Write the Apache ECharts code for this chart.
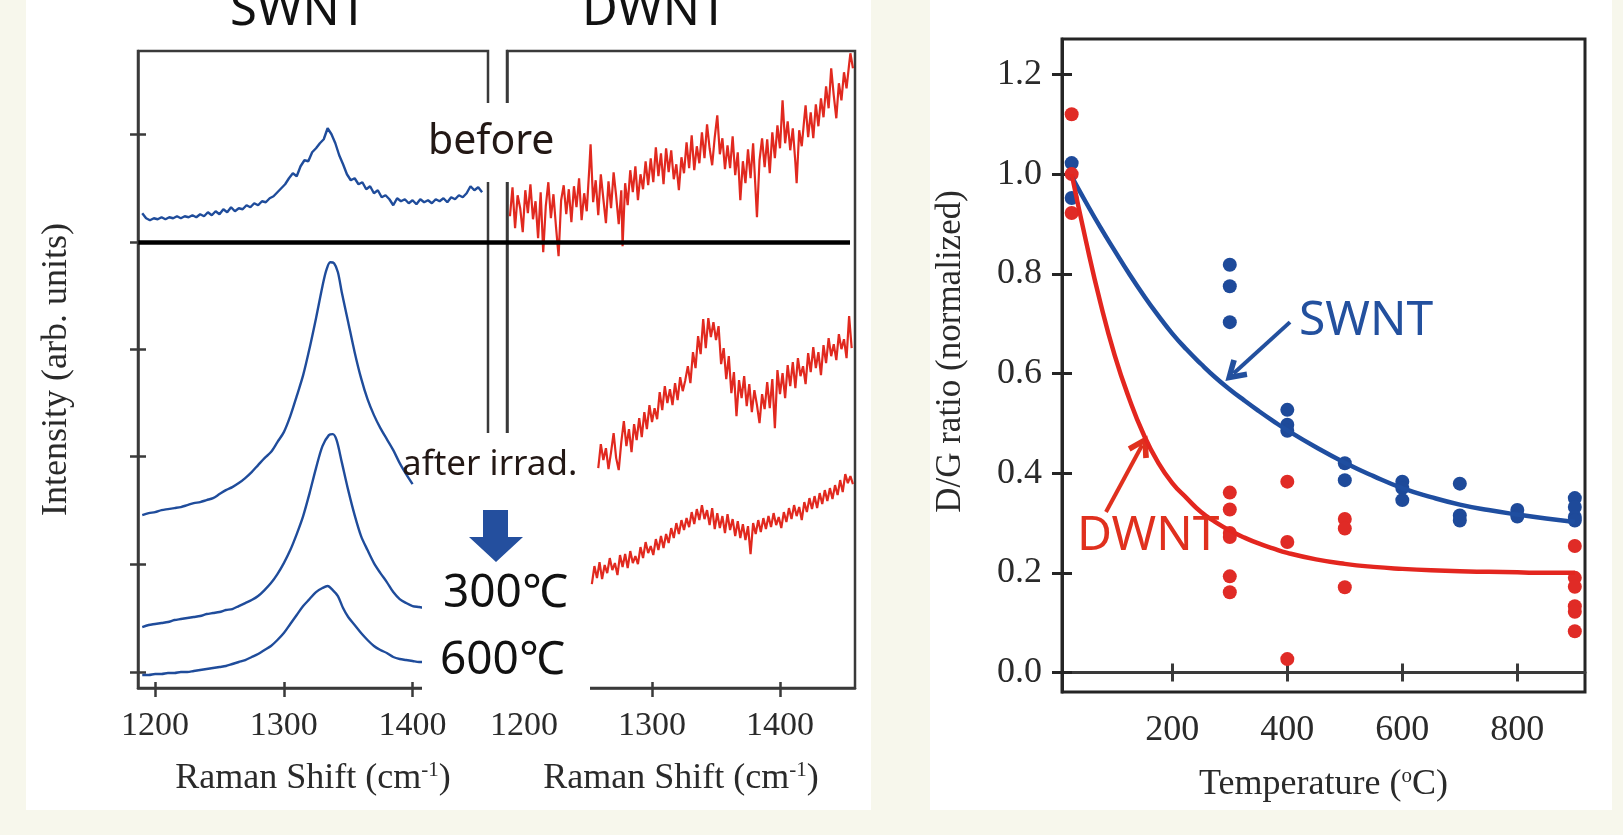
<!DOCTYPE html>
<html><head><meta charset="utf-8">
<script src="https://cdn.jsdelivr.net/npm/echarts@6/dist/echarts.min.js"></script>
<style>html,body{margin:0;padding:0;background:#f7f7ec;overflow:hidden}#c{width:1623px;height:835px}</style>
</head><body><div id="c"></div>
<script>
// ---------- tick values / labels ----------
const ramanTicks = [1200, 1300, 1400];
const intensityTicks = [1.55, 12.36, 23.17, 33.87, 44.57, 55.38];
const tempTicks = [200, 400, 600, 800];
const ratioTicks = [0, 0.2, 0.4, 0.6, 0.8, 1.0, 1.2];
const separatorLevel = 44.57;

// ---------- Raman spectra [shift cm-1, intensity arb.] ----------
const swntBefore = [[1190,47.5],[1193,47.0],[1196,46.8],[1199,47.0],[1202,46.9],[1205,47.1],[1208,46.9],[1211,47.1],[1214,47.0],[1217,47.2],[1220,47.0],[1223,47.2],[1226,47.1],[1229,47.3],[1232,47.1],[1235,47.4],[1238,47.2],[1241,47.6],[1244,47.3],[1247,47.7],[1250,47.4],[1253,47.9],[1256,47.6],[1259,48.1],[1262,47.7],[1265,48.0],[1268,47.9],[1271,48.3],[1274,48.1],[1277,48.5],[1280,48.3],[1283,48.7],[1286,48.6],[1289,49.0],[1292,49.2],[1295,49.6],[1298,50.0],[1301,50.4],[1304,51.0],[1307,51.5],[1310,51.2],[1313,52.2],[1316,52.8],[1319,52.7],[1322,53.6],[1325,54.0],[1328,54.5],[1331,54.9],[1334,56.0],[1337,55.4],[1340,54.5],[1343,53.3],[1346,52.4],[1349,51.4],[1352,50.8],[1355,51.0],[1358,50.4],[1361,50.6],[1364,49.9],[1367,50.2],[1370,49.5],[1373,49.8],[1376,49.1],[1379,49.3],[1382,48.9],[1385,48.3],[1388,49.0],[1391,48.7],[1394,48.9],[1397,48.5],[1400,48.8],[1403,48.4],[1406,48.9],[1409,48.6],[1412,48.8],[1415,48.5],[1418,48.9],[1421,48.7],[1424,49.0],[1427,48.6],[1430,49.1],[1433,48.9],[1436,49.3],[1439,49.1],[1442,49.5],[1445,50.2],[1448,49.8],[1451,50.1],[1454,49.6]];

const swntIrrad = [[1190,17.3],[1195,17.5],[1200,17.6],[1205,17.8],[1210,17.9],[1215,18.0],[1220,18.1],[1225,18.3],[1230,18.5],[1235,18.6],[1240,18.8],[1245,19.0],[1250,19.4],[1255,19.8],[1260,20.1],[1265,20.5],[1270,21.0],[1275,21.6],[1280,22.3],[1285,23.0],[1290,23.6],[1295,24.6],[1300,25.6],[1305,27.2],[1310,29.2],[1315,31.3],[1320,34.0],[1325,37.0],[1330,40.2],[1333,41.8],[1336,42.6],[1339,42.5],[1342,41.6],[1345,39.6],[1350,36.6],[1355,33.6],[1360,31.0],[1365,28.9],[1370,27.3],[1375,26.0],[1380,24.9],[1385,23.8],[1390,22.5],[1395,21.4],[1400,20.4]];

const swnt300 = [[1190,6.1],[1195,6.3],[1200,6.4],[1205,6.5],[1210,6.6],[1215,6.8],[1220,6.9],[1225,7.0],[1230,7.1],[1235,7.2],[1240,7.4],[1245,7.5],[1250,7.6],[1255,7.8],[1260,7.9],[1265,8.2],[1270,8.5],[1275,8.8],[1280,9.2],[1285,9.8],[1290,10.5],[1295,11.4],[1300,12.5],[1305,13.8],[1310,15.4],[1315,17.2],[1320,19.5],[1325,22.0],[1330,24.2],[1335,25.3],[1338,25.4],[1341,24.8],[1345,22.6],[1350,19.8],[1355,17.3],[1360,15.2],[1365,13.8],[1370,12.5],[1375,11.5],[1380,10.6],[1385,9.6],[1390,8.9],[1395,8.5],[1400,8.2],[1405,8.1],[1410,8.0]];

const swnt600 = [[1190,1.3],[1195,1.3],[1200,1.4],[1205,1.4],[1210,1.5],[1215,1.5],[1220,1.6],[1225,1.6],[1230,1.7],[1235,1.8],[1240,1.9],[1245,2.0],[1250,2.1],[1255,2.2],[1260,2.4],[1265,2.6],[1270,2.8],[1275,3.1],[1280,3.4],[1285,3.8],[1290,4.2],[1295,4.8],[1300,5.5],[1305,6.4],[1310,7.3],[1315,8.2],[1320,8.9],[1325,9.6],[1330,10.0],[1334,10.2],[1338,9.8],[1342,9.2],[1346,8.0],[1350,7.1],[1355,6.3],[1360,5.5],[1365,4.8],[1370,4.2],[1375,3.8],[1380,3.5],[1385,3.1],[1390,2.9],[1395,2.8],[1400,2.7],[1405,2.6],[1410,2.6]];

const dwntBefore = [[1189,47.2],[1191,50.1],[1193,46.0],[1195,49.3],[1197,48.0],[1199,45.6],[1201,49.8],[1203,47.5],[1205,50.4],[1207,46.9],[1209,48.7],[1211,45.0],[1213,49.6],[1215,43.6],[1217,48.2],[1219,50.6],[1221,47.0],[1223,49.4],[1225,46.1],[1227,43.2],[1229,48.8],[1231,50.3],[1233,47.4],[1235,49.9],[1237,46.6],[1239,50.2],[1241,48.1],[1243,51.0],[1245,46.8],[1247,49.5],[1249,47.7],[1251,52.0],[1252,54.4],[1254,48.6],[1256,50.8],[1258,47.3],[1260,51.4],[1262,48.9],[1264,46.5],[1266,50.7],[1268,48.0],[1270,51.6],[1272,49.2],[1274,46.4],[1276,49.8],[1277,44.2],[1279,50.5],[1281,48.3],[1283,51.8],[1285,49.6],[1287,52.2],[1289,48.8],[1291,51.4],[1293,49.9],[1295,52.7],[1297,50.3],[1299,53.0],[1301,50.6],[1303,54.1],[1305,51.2],[1307,53.5],[1309,50.4],[1311,54.0],[1313,51.6],[1315,53.8],[1317,50.9],[1319,52.4],[1321,49.8],[1323,53.1],[1325,51.5],[1327,54.6],[1329,52.0],[1331,55.3],[1333,51.8],[1335,54.2],[1337,52.5],[1339,55.6],[1341,53.0],[1343,56.4],[1345,54.0],[1347,52.3],[1349,55.1],[1351,57.3],[1353,53.4],[1355,55.0],[1357,51.9],[1359,54.3],[1361,52.0],[1363,55.2],[1365,51.3],[1367,53.6],[1369,48.8],[1371,52.7],[1373,50.5],[1375,53.9],[1377,51.0],[1379,54.5],[1381,49.6],[1382,47.1],[1384,52.8],[1386,55.0],[1388,52.1],[1390,54.9],[1392,51.5],[1394,55.6],[1396,53.0],[1398,56.3],[1400,54.0],[1402,58.8],[1404,54.5],[1406,56.7],[1408,53.8],[1410,56.0],[1412,52.6],[1413,50.5],[1415,55.8],[1417,54.2],[1419,57.0],[1420,58.3],[1422,55.1],[1424,57.6],[1426,55.0],[1428,58.4],[1430,56.2],[1432,59.0],[1434,57.1],[1436,60.2],[1438,58.0],[1440,62.0],[1442,59.3],[1444,57.0],[1446,60.5],[1448,58.8],[1450,61.6],[1452,60.0],[1454,62.4],[1455,63.5],[1457,62.0]];

const dwntIrrad = [[1258,22.0],[1260,24.4],[1262,22.8],[1264,24.0],[1266,21.9],[1268,23.6],[1270,25.5],[1272,23.0],[1274,21.8],[1276,24.6],[1278,26.7],[1280,24.2],[1282,25.9],[1284,23.6],[1286,26.4],[1288,24.8],[1290,27.0],[1292,25.1],[1294,27.6],[1296,25.9],[1298,28.3],[1300,26.6],[1302,28.0],[1304,26.9],[1306,29.6],[1308,27.8],[1310,30.2],[1312,28.5],[1314,29.9],[1316,28.3],[1318,30.5],[1320,28.8],[1322,31.1],[1324,29.7],[1326,30.8],[1328,32.2],[1330,30.5],[1332,33.6],[1334,32.0],[1336,35.2],[1338,33.4],[1340,36.9],[1342,34.0],[1344,37.0],[1346,35.1],[1348,36.6],[1350,34.8],[1352,36.2],[1354,32.4],[1356,34.0],[1358,30.9],[1360,33.2],[1362,29.5],[1364,31.6],[1366,27.2],[1368,30.8],[1370,29.0],[1372,31.2],[1374,28.2],[1376,30.4],[1378,27.6],[1380,29.8],[1382,28.3],[1384,26.5],[1386,29.4],[1388,27.9],[1390,30.6],[1392,28.0],[1394,30.9],[1396,26.0],[1398,31.8],[1400,29.4],[1402,31.5],[1404,29.0],[1406,32.3],[1408,30.2],[1410,32.6],[1412,30.0],[1414,33.0],[1416,31.2],[1418,32.2],[1420,30.4],[1422,33.5],[1424,31.6],[1426,34.1],[1428,32.0],[1430,33.6],[1432,31.3],[1434,34.3],[1436,32.5],[1438,35.0],[1440,33.2],[1442,34.4],[1444,32.8],[1446,35.4],[1448,33.9],[1450,34.9],[1452,33.0],[1454,37.2],[1456,34.0]];

const dwntAnneal = [[1253,10.4],[1255,12.2],[1257,11.0],[1259,12.6],[1261,10.9],[1263,12.3],[1265,11.5],[1267,13.0],[1269,11.8],[1271,12.5],[1273,11.3],[1275,13.3],[1277,12.1],[1279,13.4],[1281,12.0],[1283,13.7],[1285,12.5],[1287,13.2],[1289,12.4],[1291,14.1],[1293,13.0],[1295,14.6],[1297,13.5],[1299,14.2],[1301,13.3],[1303,14.9],[1305,13.8],[1307,15.2],[1309,14.0],[1311,15.4],[1313,14.5],[1315,16.0],[1317,15.0],[1319,16.5],[1321,15.4],[1323,16.8],[1325,15.8],[1327,17.0],[1329,16.1],[1331,17.6],[1333,16.4],[1335,17.9],[1337,16.8],[1339,18.3],[1341,16.9],[1343,17.8],[1345,16.3],[1347,18.0],[1349,15.9],[1351,17.5],[1353,16.0],[1355,17.2],[1357,15.5],[1359,17.4],[1361,15.8],[1363,16.9],[1365,15.2],[1367,16.7],[1369,15.0],[1371,16.4],[1373,14.8],[1375,16.2],[1377,13.4],[1379,16.5],[1381,15.4],[1383,16.8],[1385,15.6],[1387,17.0],[1389,15.9],[1391,17.2],[1393,16.1],[1395,17.5],[1397,16.3],[1399,17.1],[1401,16.0],[1403,17.6],[1405,16.6],[1407,18.0],[1409,16.9],[1411,18.3],[1413,17.2],[1415,18.1],[1417,16.8],[1419,18.6],[1421,17.6],[1423,19.0],[1425,17.9],[1427,19.2],[1429,18.0],[1431,19.5],[1433,18.4],[1435,19.8],[1437,18.7],[1439,20.0],[1441,18.9],[1443,20.3],[1445,19.3],[1447,20.8],[1449,19.6],[1451,21.4],[1453,20.5],[1455,21.2],[1457,20.4]];

// ---------- D/G ratio vs temperature ----------
const swntPoints = [[25,1.022],[25,0.952],[300,0.818],[300,0.775],[300,0.703],[400,0.527],[400,0.497],[400,0.485],[500,0.42],[500,0.386],[600,0.383],[600,0.37],[600,0.346],[700,0.379],[700,0.315],[700,0.305],[800,0.326],[800,0.313],[900,0.35],[900,0.332],[900,0.312],[900,0.305]];
const dwntPoints = [[25,1.12],[25,1.0],[25,0.922],[300,0.361],[300,0.327],[300,0.28],[300,0.272],[300,0.193],[300,0.161],[400,0.383],[400,0.262],[400,0.027],[500,0.308],[500,0.289],[500,0.171],[900,0.254],[900,0.19],[900,0.172],[900,0.133],[900,0.122],[900,0.083]];
const swntFit = [[25,0.995],[50,0.943],[75,0.893],[100,0.846],[125,0.800],[150,0.757],[175,0.717],[200,0.680],[225,0.648],[250,0.619],[275,0.592],[300,0.568],[325,0.546],[350,0.525],[375,0.505],[400,0.486],[450,0.452],[500,0.421],[550,0.394],[600,0.370],[650,0.352],[700,0.337],[750,0.326],[800,0.317],[850,0.309],[900,0.302]];
const dwntFit = [[25,1.0],[50,0.865],[75,0.742],[100,0.636],[125,0.55],[150,0.478],[175,0.422],[200,0.38],[225,0.35],[250,0.322],[275,0.302],[300,0.285],[325,0.271],[350,0.259],[375,0.249],[400,0.24],[450,0.227],[500,0.218],[550,0.212],[600,0.208],[650,0.205],[700,0.203],[750,0.202],[800,0.201],[850,0.2],[900,0.2]];
const swntArrow = [[404.7,0.703],[306.5,0.600]];
const dwntArrow = [[84.7,0.322],[147.5,0.456]];

// ---------- styles ----------
const SERIF = '"Liberation Serif","Times New Roman",serif';
const SANS = '"Noto Sans","Noto Sans CJK JP",sans-serif';
const BLUE = '#1f4c9b', RED = '#e1291f', AX = '#3a3a3a', LBL = '#2a2a2a';
const chevron = 'path://M10,0 L20,15 L16,17.5 L10,8 L4,17.5 L0,15 Z';

const chart = echarts.init(document.getElementById('c'), null, {renderer:'canvas'});

function xMain(grid, min, max, ticks, name, gap, lw, labelSize) {
  return {type:'value', gridIndex:grid, min:min, max:max, position:'bottom',
    axisLine:{show:true, lineStyle:{color:AX, width:lw}},
    axisTick:{show:true, inside:false, length:9, customValues:ticks, lineStyle:{color:AX, width:lw}},
    axisLabel:{show:true, customValues:ticks, margin:21, fontFamily:SERIF, fontSize:labelSize, color:LBL, formatter:v=>String(v)},
    splitLine:{show:false}, name:name, nameLocation:'middle', nameGap:gap,
    nameTextStyle:{fontFamily:SERIF, fontSize:36, color:LBL, rich:{sup:{fontFamily:SERIF, fontSize:21, color:LBL, verticalAlign:'top', padding:[0,0,16,0]}}}};
}
function xInner(grid, min, max, ticks, len, lw) {
  return {type:'value', gridIndex:grid, min:min, max:max, position:'bottom',
    axisLine:{show:false}, axisTick:{show:true, inside:true, length:len, customValues:ticks, lineStyle:{color:AX, width:lw}},
    axisLabel:{show:false}, splitLine:{show:false}};
}

const option = {
  animation:false,
  backgroundColor:'transparent',
  grid:[
    {left:138, top:51, width:350, height:637, show:true, borderColor:AX, borderWidth:2.5, backgroundColor:'transparent'},
    {left:507, top:51, width:348, height:637, show:true, borderColor:AX, borderWidth:2.5, backgroundColor:'transparent'},
    {left:1062, top:39, width:523, height:653, show:true, borderColor:'#252525', borderWidth:3, backgroundColor:'transparent'}
  ],
  xAxis:[
    xMain(0, 1186.7, 1458.6, ramanTicks, 'Raman Shift (cm{sup|-1})', 72, 2.5, 34),
    xInner(0, 1186.7, 1458.6, ramanTicks, 6, 2.5),
    xMain(1, 1186.7, 1458.6, ramanTicks, 'Raman Shift (cm{sup|-1})', 72, 2.5, 34),
    xInner(1, 1186.7, 1458.6, ramanTicks, 6, 2.5),
    xMain(2, 8.2, 917.7, tempTicks, 'Temperature ({sup|o}C)', 74, 3, 36),
    xInner(2, 8.2, 917.7, tempTicks, 9, 3)
  ],
  yAxis:[
    {type:'value', gridIndex:0, min:0, max:63.73, position:'left',
      axisLine:{show:true, lineStyle:{color:AX, width:2.5}},
      axisTick:{show:true, inside:false, length:8, customValues:intensityTicks, lineStyle:{color:AX, width:2.5}},
      axisLabel:{show:false}, splitLine:{show:false},
      name:'Intensity (arb. units)', nameLocation:'middle', nameGap:63,
      nameTextStyle:{fontFamily:SERIF, fontSize:36, color:LBL}},
    {type:'value', gridIndex:0, min:0, max:63.73, position:'left',
      axisLine:{show:false}, axisTick:{show:true, inside:true, length:8, customValues:intensityTicks, lineStyle:{color:AX, width:2.5}},
      axisLabel:{show:false}, splitLine:{show:false}},
    {type:'value', gridIndex:1, min:0, max:63.73, position:'left',
      axisLine:{show:true, lineStyle:{color:AX, width:2.5}}, axisTick:{show:false},
      axisLabel:{show:false}, splitLine:{show:false}},
    {type:'value', gridIndex:2, min:-0.039, max:1.271, position:'left',
      axisLine:{show:true, lineStyle:{color:'#252525', width:3}},
      axisTick:{show:true, inside:false, length:10, customValues:ratioTicks, lineStyle:{color:'#252525', width:3}},
      axisLabel:{show:true, customValues:ratioTicks, margin:20, fontFamily:SERIF, fontSize:36, color:LBL, formatter:v=>v.toFixed(1)},
      splitLine:{show:false},
      name:'D/G ratio (normalized)', nameLocation:'middle', nameGap:94,
      nameTextStyle:{fontFamily:SERIF, fontSize:35, color:LBL, padding:[0,0,0,28]}},
    {type:'value', gridIndex:2, min:-0.039, max:1.271, position:'left',
      axisLine:{show:false}, axisTick:{show:true, inside:true, length:10, customValues:ratioTicks, lineStyle:{color:'#252525', width:3}},
      axisLabel:{show:false}, splitLine:{show:false}}
  ],
  series:[
    {name:'SWNT before', type:'line', xAxisIndex:0, yAxisIndex:0, data:swntBefore, showSymbol:false, lineStyle:{color:BLUE, width:2.4}, z:3},
    {name:'SWNT irrad', type:'line', xAxisIndex:0, yAxisIndex:0, data:swntIrrad, smooth:0.3, showSymbol:false, lineStyle:{color:BLUE, width:2.4}, z:3},
    {name:'SWNT 300', type:'line', xAxisIndex:0, yAxisIndex:0, data:swnt300, smooth:0.3, showSymbol:false, lineStyle:{color:BLUE, width:2.4}, z:3},
    {name:'SWNT 600', type:'line', xAxisIndex:0, yAxisIndex:0, data:swnt600, smooth:0.3, showSymbol:false, lineStyle:{color:BLUE, width:2.4}, z:3},
    {name:'DWNT before', type:'line', xAxisIndex:2, yAxisIndex:2, data:dwntBefore, showSymbol:false, lineStyle:{color:RED, width:2.2}, z:3},
    {name:'DWNT irrad', type:'line', xAxisIndex:2, yAxisIndex:2, data:dwntIrrad, showSymbol:false, lineStyle:{color:RED, width:2.2}, z:3},
    {name:'DWNT anneal', type:'line', xAxisIndex:2, yAxisIndex:2, data:dwntAnneal, showSymbol:false, lineStyle:{color:RED, width:2.2}, z:3},
    {name:'SWNT ratio', type:'scatter', xAxisIndex:4, yAxisIndex:3, data:swntPoints, symbolSize:14, itemStyle:{color:'#1e4a9a', opacity:1}, z:3},
    {name:'DWNT ratio', type:'scatter', xAxisIndex:4, yAxisIndex:3, data:dwntPoints, symbolSize:14, itemStyle:{color:'#e02b26', opacity:1}, z:4},
    {name:'SWNT fit', type:'line', xAxisIndex:4, yAxisIndex:3, data:swntFit, smooth:0.5, showSymbol:false, lineStyle:{color:'#1f4ea0', width:4.5}, z:5,
      markLine:{silent:true, symbol:['none', chevron], symbolSize:[24,22], label:{show:false}, lineStyle:{color:'#23509e', width:4, type:'solid'},
        data:[[{coord:swntArrow[0]},{coord:swntArrow[1]}]]}},
    {name:'DWNT fit', type:'line', xAxisIndex:4, yAxisIndex:3, data:dwntFit, smooth:0.5, showSymbol:false, lineStyle:{color:'#e3261f', width:4.5}, z:5,
      markLine:{silent:true, symbol:['none', chevron], symbolSize:[24,22], label:{show:false}, lineStyle:{color:'#e0301e', width:4, type:'solid'},
        data:[[{coord:dwntArrow[0]},{coord:dwntArrow[1]}]]}}
  ]
};

function txt(id, s, x, baseline, size, color) {
  return {id:id, type:'text', z:120, style:{text:s, x:x, y:baseline - 0.36*size, font:size+'px '+SANS, fill:color,
    align:'left', verticalAlign:'middle', textAlign:'left', textVerticalAlign:'middle'}};
}
const graphics = [
  {id:'bgL', type:'rect', z:-10, shape:{x:26, y:0, width:845, height:810}, style:{fill:'#ffffff'}},
  {id:'bgR', type:'rect', z:-10, shape:{x:930, y:0, width:682, height:810}, style:{fill:'#ffffff'}},
  {id:'coverBefore', type:'rect', z:100, shape:{x:420, y:103, width:147, height:79}, style:{fill:'#ffffff'}},
  {id:'coverAfter', type:'rect', z:100, shape:{x:422, y:433, width:168, height:272}, style:{fill:'#ffffff'}},
  {id:'downArrow', type:'polygon', z:110, shape:{points:[[483,510],[508,510],[508,537],[523,537],[496,562],[469,537],[483,537]]}, style:{fill:'#244f9e'}},
  txt('tSW', 'SWNT', 230, 29, 49, '#111'),
  txt('tDW', 'DWNT', 582, 29, 49, '#111'),
  txt('tBefore', 'before', 428, 157, 41, '#231815'),
  txt('tAfter', 'after irrad.', 402, 478, 35, '#231815'),
  txt('t300', '300\u2103', 443, 610, 46, '#111'),
  txt('t600', '600\u2103', 440, 677, 46, '#111'),
  txt('tSWr', 'SWNT', 1299, 339, 48, '#23509e'),
  txt('tDWr', 'DWNT', 1077, 554, 48, '#e0301e')
];
option.graphic = graphics;
chart.setOption(option);

const p1 = chart.convertToPixel({xAxisIndex:0, yAxisIndex:0}, [1187, separatorLevel]);
const p2 = chart.convertToPixel({xAxisIndex:2, yAxisIndex:2}, [1454.7, separatorLevel]);
chart.setOption({graphic:[{id:'sep', type:'line', z:105, shape:{x1:p1[0], y1:p1[1], x2:p2[0], y2:p2[1]}, style:{stroke:'#000', lineWidth:4.5}}]});
</script></body></html>
